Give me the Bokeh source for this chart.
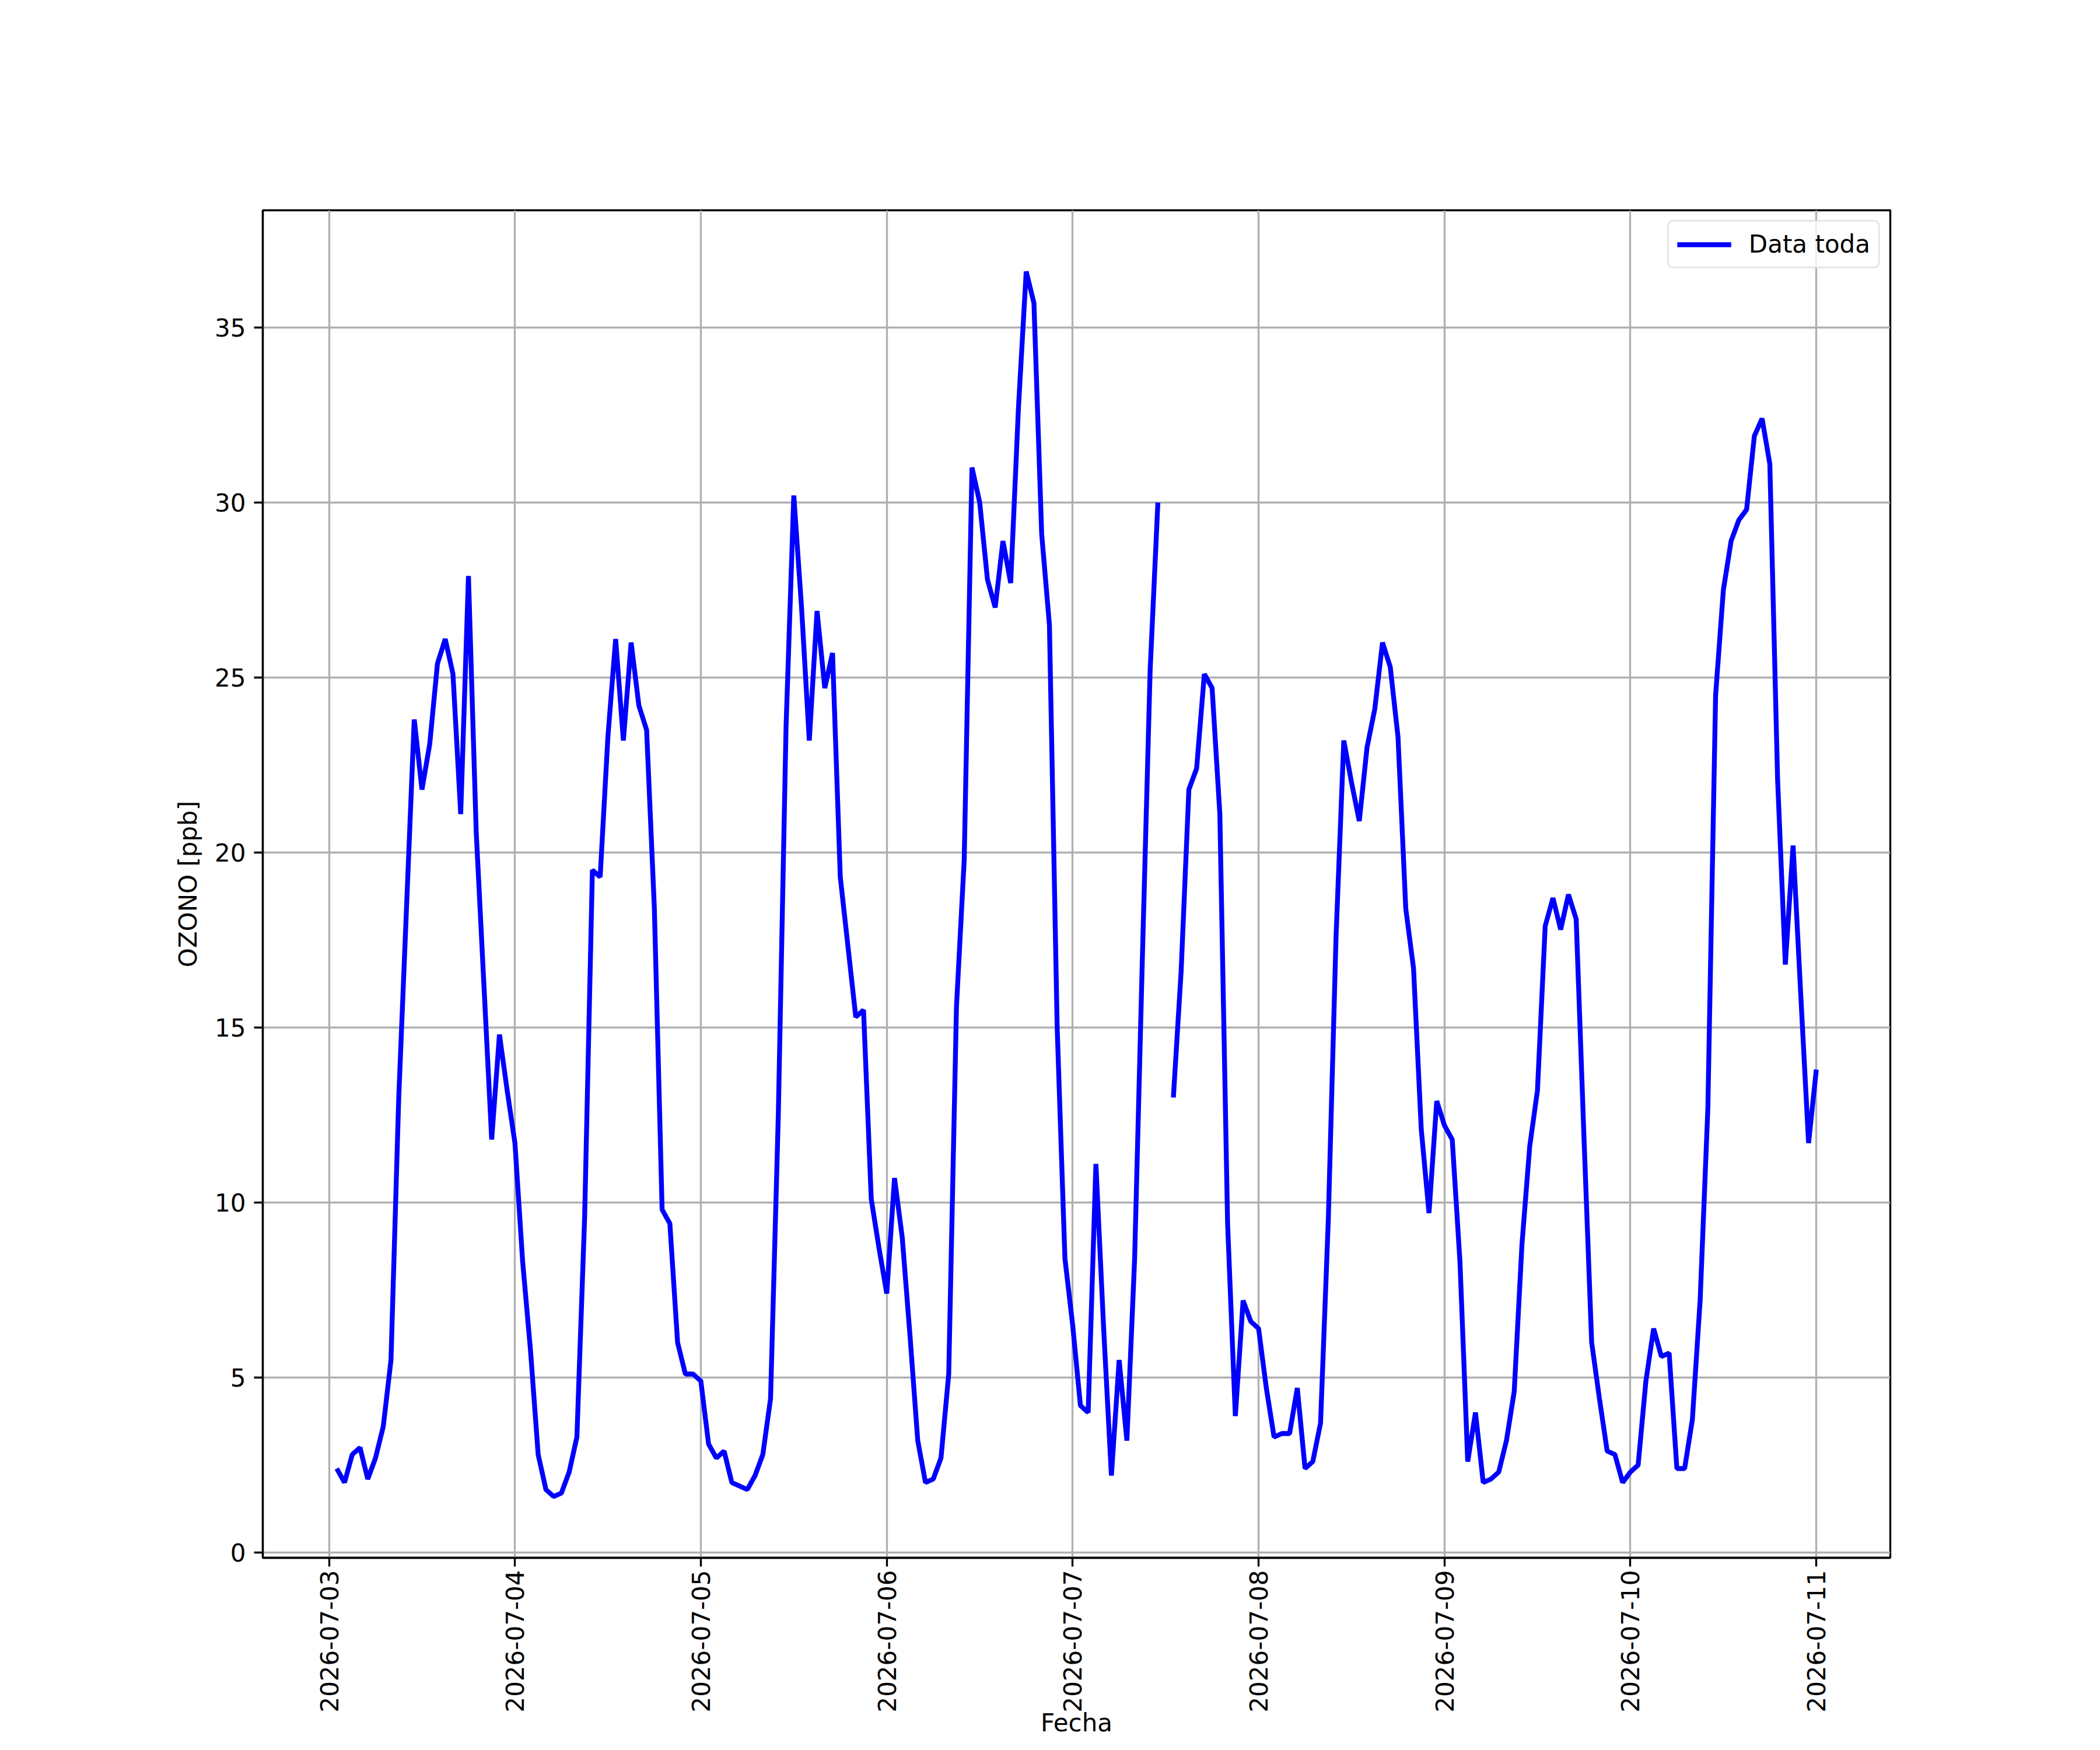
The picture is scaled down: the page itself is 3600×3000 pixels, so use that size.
import math
import numpy as np
import pandas as pd
from bokeh.plotting import figure
from bokeh.models import (Range1d, FixedTicker, DatetimeTickFormatter, Legend,
                          LegendItem, ColumnDataSource)
from bokeh.embed import file_html
from bokeh.resources import INLINE

nan = float("nan")

# hourly ozone values [ppb]; first sample 2026-07-03 01:00
start_time = "2026-07-03 01:00"
jul03 = [2.4, 2.0, 2.8, 3.0, 2.1, 2.7, 3.6, 5.5, 13.0, 18.4, 23.8, 21.8, 23.1,
         25.4, 26.1, 25.1, 21.1, 27.9, 20.6, 16.2, 11.8, 14.8, 13.2]
jul04 = [11.7, 8.3, 5.8, 2.8, 1.8, 1.6, 1.7, 2.3, 3.3, 9.6, 19.5, 19.3, 23.3,
         26.1, 23.2, 26.0, 24.2, 23.5, 18.4, 9.8, 9.4, 6.0, 5.1, 5.1]
jul05 = [4.9, 3.1, 2.7, 2.9, 2.0, 1.9, 1.8, 2.2, 2.8, 4.4, 12.5, 23.6, 30.2,
         27.0, 23.2, 26.9, 24.7, 25.7, 19.3, 17.3, 15.3, 15.5, 10.1, 8.7]
jul06 = [7.4, 10.7, 9.0, 6.2, 3.2, 2.0, 2.1, 2.7, 5.1, 15.6, 19.8, 31.0, 30.0,
         27.8, 27.0, 28.9, 27.7, 32.7, 36.6, 35.7, 29.1, 26.5, 15.0, 8.4]
jul07 = [6.5, 4.2, 4.0, 11.1, 6.4, 2.2, 5.5, 3.2, 8.4, 17.0, 25.2, 30.0, nan,
         13.0, 16.6, 21.8, 22.4, 25.1, 24.7, 21.1, 9.4, 3.9, 7.2, 6.6]
jul08 = [6.4, 4.7, 3.3, 3.4, 3.4, 4.7, 2.4, 2.6, 3.7, 9.5, 17.6, 23.2, 22.0,
         20.9, 23.0, 24.1, 26.0, 25.3, 23.3, 18.4, 16.7, 12.1, 9.7, 12.9]
jul09 = [12.2, 11.8, 8.3, 2.6, 4.0, 2.0, 2.1, 2.3, 3.2, 4.6, 8.8, 11.6, 13.2,
         17.9, 18.7, 17.8, 18.8, 18.1, 11.9, 6.0, 4.4, 2.9, 2.8, 2.0]
jul10 = [2.3, 2.5, 4.9, 6.4, 5.6, 5.7, 2.4, 2.4, 3.8, 7.2, 12.7, 24.5, 27.5,
         28.9, 29.5, 29.8, 31.9, 32.4, 31.1, 22.1, 16.8, 20.2, 15.9, 11.7]
jul11 = [13.8]

day_ticks = ["2026-07-03", "2026-07-04", "2026-07-05", "2026-07-06",
             "2026-07-07", "2026-07-08", "2026-07-09", "2026-07-10",
             "2026-07-11"]
y_ticks = [0, 5, 10, 15, 20, 25, 30, 35]
series_label = "Data toda"
x_label = "Fecha"
y_label = "OZONO [ppb]"

ozone = np.array(jul03 + jul04 + jul05 + jul06 + jul07 + jul08 + jul09 + jul10 + jul11, dtype=float)
times = pd.date_range(start_time, periods=len(ozone), freq="h")

def to_ms(ts):
    return pd.Timestamp(ts).timestamp() * 1000.0

t_ms = np.array([to_ms(t) for t in times])
src = ColumnDataSource(dict(t=t_ms, o=ozone))

xpad = 0.05 * (t_ms[-1] - t_ms[0])
ylo, yhi = np.nanmin(ozone), np.nanmax(ozone)
ypad = 0.05 * (yhi - ylo)

FONT = "DejaVu Sans"
FS = "42px"
LW = 3.33

p = figure(width=3584, height=2984, x_axis_type="datetime",
           output_backend="svg", toolbar_location=None,
           x_range=Range1d(t_ms[0] - xpad, t_ms[-1] + xpad),
           y_range=Range1d(ylo - ypad, yhi + ypad),
           min_border_left=450, min_border_right=344,
           min_border_top=360, min_border_bottom=314,
           x_axis_label=x_label, y_axis_label=y_label)

p.background_fill_color = "white"
p.border_fill_color = "white"
p.outline_line_color = "black"
p.outline_line_width = LW
p.outline_line_alpha = 1.0

xt = FixedTicker(ticks=[to_ms(d) for d in day_ticks])
yt = FixedTicker(ticks=y_ticks)
p.xaxis.ticker = xt
p.yaxis.ticker = yt
p.xgrid.ticker = xt
p.ygrid.ticker = yt
fmt = "%Y-%m-%d"
p.xaxis.formatter = DatetimeTickFormatter(
    milliseconds=fmt, seconds=fmt, minsec=fmt, minutes=fmt, hourmin=fmt,
    hours=fmt, days=fmt, months=fmt, years=fmt)
p.xaxis.major_label_orientation = math.pi / 2

for ax in (p.xaxis, p.yaxis):
    ax.axis_line_color = "black"
    ax.axis_line_width = LW
    ax.major_tick_in = 0
    ax.major_tick_out = 15
    ax.major_tick_line_width = LW
    ax.major_tick_line_color = "black"
    ax.minor_tick_line_color = None
    ax.major_label_text_font = FONT
    ax.major_label_text_font_size = FS
    ax.major_label_text_color = "black"
    ax.axis_label_text_font = FONT
    ax.axis_label_text_font_size = FS
    ax.axis_label_text_font_style = "normal"
    ax.axis_label_text_color = "black"
p.xaxis.major_label_standoff = 6
p.yaxis.major_label_standoff = 14
p.xaxis.axis_label_standoff = -10
p.yaxis.axis_label_standoff = 18

for g in (p.xgrid, p.ygrid):
    g.grid_line_color = "#b0b0b0"
    g.grid_line_width = LW

r = p.line(x="t", y="o", source=src, line_color="#0000ff", line_width=8.33)

legend = Legend(items=[LegendItem(label=series_label, renderers=[r])],
                location="top_right")
legend.label_text_font = FONT
legend.label_text_font_size = FS
legend.label_text_color = "black"
legend.glyph_width = 93
legend.glyph_height = 42
legend.label_height = 42
legend.label_standoff = 30
legend.padding = 14
legend.margin = 17
legend.spacing = 0
legend.border_line_color = "#cccccc"
legend.border_line_width = LW
legend.background_fill_color = "white"
legend.background_fill_alpha = 0.8
try:
    legend.border_radius = 10
except Exception:
    pass
p.add_layout(legend)

open("out.html", "w").write(file_html(p, INLINE))
